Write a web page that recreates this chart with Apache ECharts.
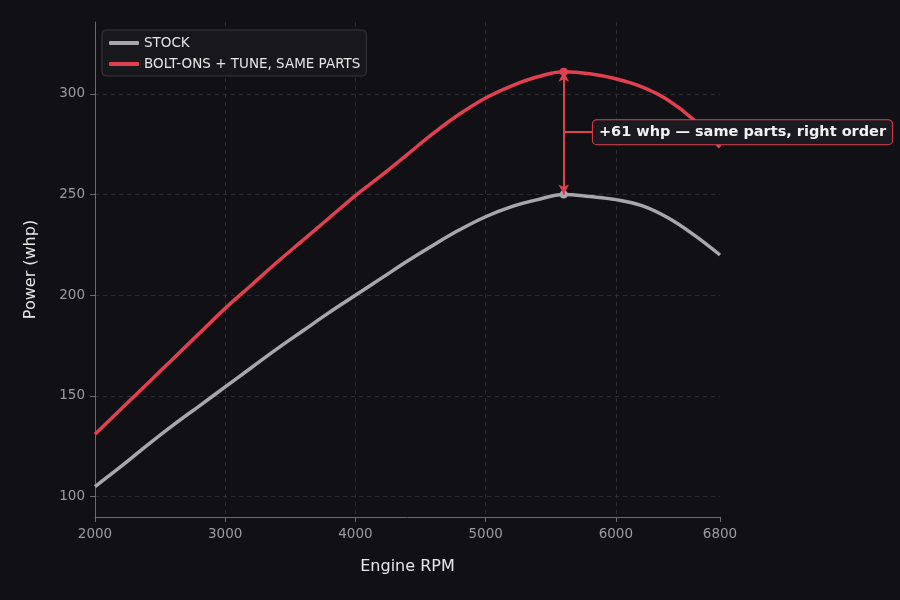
<!DOCTYPE html>
<html>
<head>
<meta charset="utf-8">
<script src="https://cdn.jsdelivr.net/npm/echarts@6/dist/echarts.min.js"></script>
<style>
  html, body { margin: 0; padding: 0; background: #111115; }
  #chart { width: 900px; height: 600px; }
</style>
</head>
<body>
<div id="chart"></div>
<script>
// rpm points (x) and power readings (whp)
const rpm = [2000, 2200, 2400, 2600, 2800, 3000, 3200, 3400, 3600, 3800, 4000, 4200, 4400,
  4600, 4800, 5000, 5200, 5400, 5600, 5800, 6000, 6200, 6400, 6600, 6800]
const stock = [105, 115, 125.5, 135.5, 145, 154.5, 164, 173.5, 182.5, 191.5, 200, 208.5, 217,
  225, 232.5, 239, 244, 247.5, 250, 249, 247.5, 244.5, 238.5, 230, 220]
const tuned = [131, 143.5, 156, 168.5, 181, 193.5, 205, 216.5, 227.5, 238.5, 249.5, 259.5, 270,
  280.5, 290, 298, 304, 308.5, 311, 310, 307.5, 303.5, 297, 287, 273.5]
const xTicks = [2000, 3000, 4000, 5000, 6000, 6800]
const yTicks = [100, 150, 200, 250, 300]

const peakRpm = 5600
const peakStock = 250
const peakTuned = 311
const gainText = '+61 whp — same parts, right order'

const RED = '#e0404f'
const GRAY = '#a6a6ab'

const chart = echarts.init(document.getElementById('chart'))
chart.setOption({
  backgroundColor: '#111115',
  textStyle: { fontFamily: 'DejaVu Sans' },
  animation: false,
  grid: { left: 95, right: 180, top: 22, bottom: 83 },
  legend: {
    orient: 'vertical',
    left: 102,
    top: 30,
    padding: [6, 6, 5, 7],
    itemGap: 7,
    itemWidth: 30,
    itemHeight: 4,
    icon: 'roundRect',
    backgroundColor: '#17171c',
    borderColor: '#34343a',
    borderWidth: 1,
    borderRadius: 4,
    textStyle: { color: '#e6e6e6', fontSize: 13.5 },
    data: ['STOCK', 'BOLT-ONS + TUNE, SAME PARTS']
  },
  xAxis: {
    type: 'value',
    min: 2000,
    max: 6800,
    name: 'Engine RPM',
    nameLocation: 'middle',
    nameGap: 42,
    nameTextStyle: { color: '#e6e6e6', fontSize: 16 },
    axisLine: { lineStyle: { color: '#6a6a70' } },
    axisTick: { show: true, length: 5, customValues: xTicks, lineStyle: { color: '#6a6a70' } },
    axisLabel: {
      customValues: xTicks,
      color: '#9a9aa0',
      fontSize: 13.5,
      margin: 10,
      formatter: (v) => String(v)
    },
    splitLine: { show: true, showMaxLine: false, lineStyle: { color: '#2c2c33', type: [4, 4] } }
  },
  yAxis: {
    type: 'value',
    min: 89.9,
    max: 335.7,
    name: 'Power (whp)',
    nameLocation: 'middle',
    nameGap: 56,
    nameTextStyle: { color: '#e6e6e6', fontSize: 16 },
    axisLine: { show: true, lineStyle: { color: '#6a6a70' } },
    axisTick: { show: true, length: 5, customValues: yTicks, lineStyle: { color: '#6a6a70' } },
    axisLabel: { customValues: yTicks, color: '#9a9aa0', fontSize: 13.5, margin: 10 },
    splitLine: { show: true, lineStyle: { color: '#2c2c33', type: [4, 4] } }
  },
  series: [
    {
      name: 'STOCK',
      type: 'line',
      smooth: 0.4,
      clip: false,
      showSymbol: false,
      color: GRAY,
      lineStyle: { width: 3.5, color: GRAY },
      data: rpm.map((r, i) => [r, stock[i]]),
      markPoint: {
        symbol: 'circle',
        symbolSize: 8,
        label: { show: false },
        itemStyle: { color: GRAY },
        data: [{ coord: [peakRpm, peakStock] }]
      }
    },
    {
      name: 'BOLT-ONS + TUNE, SAME PARTS',
      type: 'line',
      smooth: 0.4,
      clip: false,
      showSymbol: false,
      color: RED,
      lineStyle: { width: 3.5, color: RED },
      data: rpm.map((r, i) => [r, tuned[i]]),
      markPoint: {
        symbol: 'circle',
        symbolSize: 8,
        label: { show: false },
        itemStyle: { color: RED },
        data: [{ coord: [peakRpm, peakTuned] }]
      },
      markLine: {
        z: 10,
        silent: true,
        symbol: ['arrow', 'arrow'],
        symbolSize: [8, 10],
        lineStyle: { color: RED, width: 2, type: 'solid' },
        label: { show: false },
        data: [
          [{ coord: [peakRpm, peakStock] }, { coord: [peakRpm, peakTuned] }],
          [
            { coord: [peakRpm, 281], symbol: 'none' },
            {
              coord: [5824, 281],
              symbol: 'none',
              label: {
                show: true,
                position: 'end',
                distance: 0,
                formatter: gainText,
                color: '#f2f2f2',
                fontWeight: 'bold',
                fontSize: 14.5,
                backgroundColor: '#1a1a20',
                borderColor: RED,
                borderWidth: 1,
                borderRadius: 4,
                padding: [5, 6, 4, 6]
              }
            }
          ]
        ]
      }
    }
  ]
})
</script>
</body>
</html>
